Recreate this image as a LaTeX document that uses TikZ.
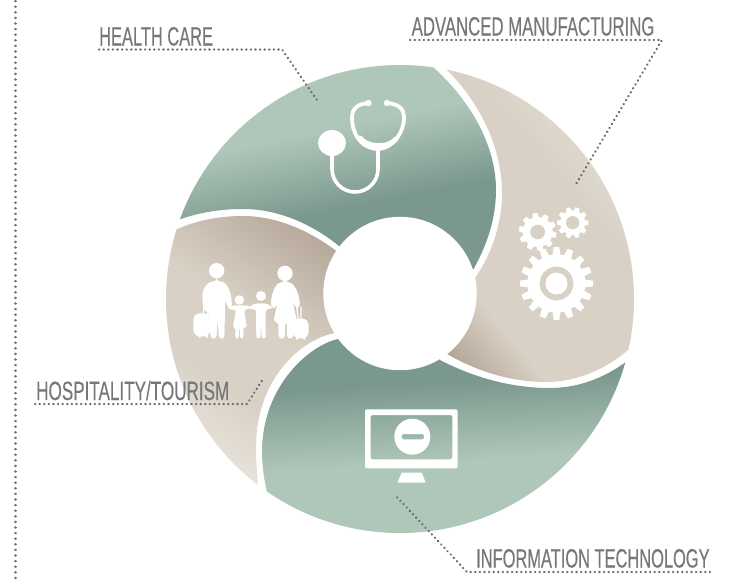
\documentclass[tikz,border=0pt]{standalone}
\usepackage{fontspec}
\setmainfont[FakeStretch=0.62,FakeBold=0.25]{Liberation Sans}
\definecolor{gl}{HTML}{AFC7B9}
\definecolor{gd}{HTML}{7B988D}
\definecolor{tm}{HTML}{D9D1C5}
\definecolor{td}{HTML}{B5A798}
\definecolor{tl}{HTML}{E6E2DA}
\definecolor{tr}{HTML}{E0DBCF}
\definecolor{labelgray}{HTML}{77777A}
\definecolor{dotgray}{HTML}{66686A}
\definecolor{dotbrown}{HTML}{80705F}
\pgfdeclareverticalshading{greentop}{100bp}{color(0bp)=(gd); color(60bp)=(gd); color(68.2bp)=(gl); color(100bp)=(gl)}
\pgfdeclareverticalshading{greenbot}{100bp}{color(0bp)=(gl); color(33.4bp)=(gl); color(41.5bp)=(gd); color(100bp)=(gd)}
\pgfdeclareverticalshading{tanleft}{100bp}{color(0bp)=(tl); color(26.5bp)=(tl); color(33bp)=(tm); color(40bp)=(tm); color(51bp)=(td); color(100bp)=(td)}
\pgfdeclareverticalshading{tanright}{100bp}{color(0bp)=(td); color(50.3bp)=(td); color(56bp)=(tm); color(70bp)=(tm); color(75bp)=(tr); color(100bp)=(tr)}
\tikzset{
  leader/.style={draw=dotgray,line width=2.4pt,line cap=round,dash pattern=on 0.2pt off 4.4pt},
  sidedots/.style={draw=dotbrown,line width=2.4pt,line cap=round,dash pattern=on 0.2pt off 5.4pt},
  lab/.style={inner sep=0pt,anchor=base west,text=labelgray,font=\fontsize{26.5}{26.5}\selectfont},
  icon/.style={draw=white,line width=#1,line cap=round,line join=round},
}
\newcommand{\sector}[3]{%
  \begin{scope}
    \clip (400,299) circle (234);
    \clip #3;
    \shade[shading=#1,shading angle=#2] (150,49) rectangle (650,549);
  \end{scope}}
\newcommand{\gearicon}[7]{% x y ro ri n hole start
  \begin{scope}[shift={(#1,#2)}]
    \pgfmathsetmacro{\gp}{360/#5}
    \fill[white,even odd rule] (#7-0.34*\gp:#4)
      foreach \i in {1,...,#5} {
        -- ({#7+(\i-1)*\gp-0.2*\gp}:#3) -- ({#7+(\i-1)*\gp+0.2*\gp}:#3)
        -- ({#7+(\i-1)*\gp+0.34*\gp}:#4) -- ({#7+(\i-1)*\gp+0.66*\gp}:#4)
      } -- cycle (0,0) circle (#6);
  \end{scope}}
\begin{document}
\begin{tikzpicture}[x=1pt,y=-1pt]
\useasboundingbox (0,0) rectangle (735,582);
% left dotted rule
\coordinate (ruletop) at (15.5,1);
\coordinate (rulebot) at (15.5,582);
\draw[sidedots] (ruletop) -- (rulebot);
% sectors
\sector{greentop}{11.6}{(415,45) -- (433,67) .. controls (470,100) and (496,145) .. (496,190) .. controls (496,220) and (486,247) .. (473,270) -- (400,294) -- (339,246) .. controls (312,224) and (278,209) .. (243,209) .. controls (222,209) and (200,212) .. (178,220) -- (150,231) -- (100,100) -- (300,10) -- cycle}
\sector{tanleft}{-35}{(150,241) -- (175,230) .. controls (197,220) and (220,216) .. (243,216) .. controls (276,216) and (308,230) .. (335,250) -- (400,294) -- (335,333) .. controls (305,338) and (257,375) .. (256,445) .. controls (256,460) and (257,473) .. (258,487) -- (260,515) -- (120,515) -- cycle}
\sector{greenbot}{3.4}{(338,339) .. controls (310,345) and (263,385) .. (262,450) .. controls (262,465) and (264,480) .. (267,492) -- (272,515) -- (400,570) -- (690,570) -- (650,345) -- (623,364) .. controls (600,380) and (575,388) .. (550,388) .. controls (510,388) and (473,377) .. (440,360) -- (400,294) -- cycle}
\sector{tanright}{-50}{(425,50) -- (447,70) .. controls (482,105) and (502,150) .. (502,193) .. controls (502,225) and (491,255) .. (475,278) -- (400,294) -- (447,354) .. controls (478,372) and (512,382) .. (547,382) .. controls (575,382) and (605,370) .. (628,350) -- (655,325) -- (690,300) -- (640,40) -- cycle}
% hub
\fill[white] (400,293.5) circle (76.7);
% stethoscope
\fill[white] (332,143) ellipse (14 and 13);
\draw[icon=3.6pt] (332,152) -- (332,169) arc[start angle=180,end angle=0,radius=23] -- (378,150);
\draw[icon=3.8pt] (368,103) .. controls (358,104) and (352,108) .. (352,118) .. controls (352,130) and (358,148) .. (378,149) .. controls (395,148) and (404,130) .. (404,118) .. controls (404,108) and (398,104) .. (387,103);
\draw[icon=5pt] (360,138) .. controls (366,147) and (388,149) .. (396,139);
\fill[white] (368.5,103) circle (3.2) (387,103) circle (3.2);
% family
\begin{scope}[shift={(150,220)},scale=1/3]
  \fill[white] (200,152) circle (23) (405,160) circle (23) (268,240) circle (14) (333,228) circle (15);
  % father
  \fill[white,rounded corners=3pt] (200,184) .. controls (172,184) and (158,205) .. (157,235) -- (160,272) -- (172,272) -- (178,290) -- (182,356) -- (199,356) -- (203,298) -- (207,356) -- (223,356) -- (226,240) -- (236,266) -- (246,262) .. controls (244,215) and (232,184) .. (200,184) -- cycle;
  % father's suitcase
  \fill[white,rounded corners=6.5pt] (130,280) rectangle (181,349);
  \fill[white] (146,346) rectangle (152,353) (168,346) rectangle (174,353);
  \draw[icon=1.3pt] (162,262) -- (160,284) (173,262) -- (173,284);
  % girl
  \fill[white,rounded corners=2pt] (232,260) -- (256,256) -- (280,256) -- (300,258) -- (302,264) -- (282,270) -- (291,322) -- (280,322) -- (280,355) -- (270,355) -- (269,322) -- (267,322) -- (266,355) -- (256,355) -- (256,322) -- (249,322) -- (258,270) -- (236,268) -- cycle;
  % boy
  \fill[white,rounded corners=2pt] (294,262) -- (318,250) -- (348,250) -- (366,260) -- (366,266) -- (347,268) -- (347,355) -- (335,355) -- (333,308) -- (331,355) -- (319,355) -- (318,268) -- (297,268) -- cycle;
  % mother
  \fill[white,rounded corners=3pt] (405,186) .. controls (380,186) and (366,212) .. (362,255) -- (368,266) -- (378,262) -- (384,240) -- (370,306) -- (385,306) -- (386,356) -- (404,356) -- (406,306) -- (410,306) -- (412,356) -- (429,356) -- (430,306) -- (441,306) -- (428,240) -- (436,264) -- (447,264) -- (450,250) .. controls (444,212) and (430,186) .. (405,186) -- cycle;
  % mother's suitcase
  \fill[white,rounded corners=6.5pt] (428,296) rectangle (476,355);
  \fill[white] (438,352) rectangle (444,359) (460,352) rectangle (466,359);
  \draw[icon=1.3pt] (441,262) -- (444,298) (453,262) -- (453,298);
\end{scope}
% monitor
\begin{scope}[shift={(250,350)},scale=1/3]
  \fill[white,even odd rule,rounded corners=2pt] (345,178) rectangle (623,355) (362,195) rectangle (607,328);
  \fill[white,even odd rule] (487,260) circle (54) [rounded corners=2pt] (455,252) rectangle (522,268);
  \fill[white] (455,368) -- (515,368) -- (527,398) -- (442,398) -- cycle;
\end{scope}
% gears
\gearicon{556.5}{283.5}{36.7}{29}{16}{17}{0}
\fill[white] (556.5,283.5) circle (11);
\gearicon{537.7}{232}{19}{15}{10}{7.5}{10}
\gearicon{572.7}{222.7}{15.7}{12.5}{10}{6.8}{0}
% labels and leaders
\node[lab] (health) at (99,45.5) {HEALTH CARE};
\coordinate (hs) at (99,49.5);
\coordinate (hk) at (282,49.5);
\coordinate (he) at (319,103);
\draw[leader] (hs) -- (hk) -- (he);
\node[lab] (manuf) at (411.5,35.5) {\scalebox{1.02}[1]{ADVANCED MANUFACTURING}};
\coordinate (ms) at (410,40);
\coordinate (mk) at (662,40);
\coordinate (me) at (576,184);
\draw[leader] (ms) -- (mk) -- (me);
\node[lab] (tour) at (36,400) {\scalebox{1.04}[1]{HOSPITALITY/TOURISM}};
\coordinate (ts) at (35,404);
\coordinate (tk) at (247,404);
\coordinate (te) at (263,379);
\draw[leader] (ts) -- (tk) -- (te);
\node[lab] (info) at (476,567.5) {INFORMATION TECHNOLOGY};
\coordinate (is) at (710,572);
\coordinate (ik) at (467,572);
\coordinate (ie) at (395,495);
\draw[leader] (is) -- (ik) -- (ie);
\end{tikzpicture}
\end{document}
